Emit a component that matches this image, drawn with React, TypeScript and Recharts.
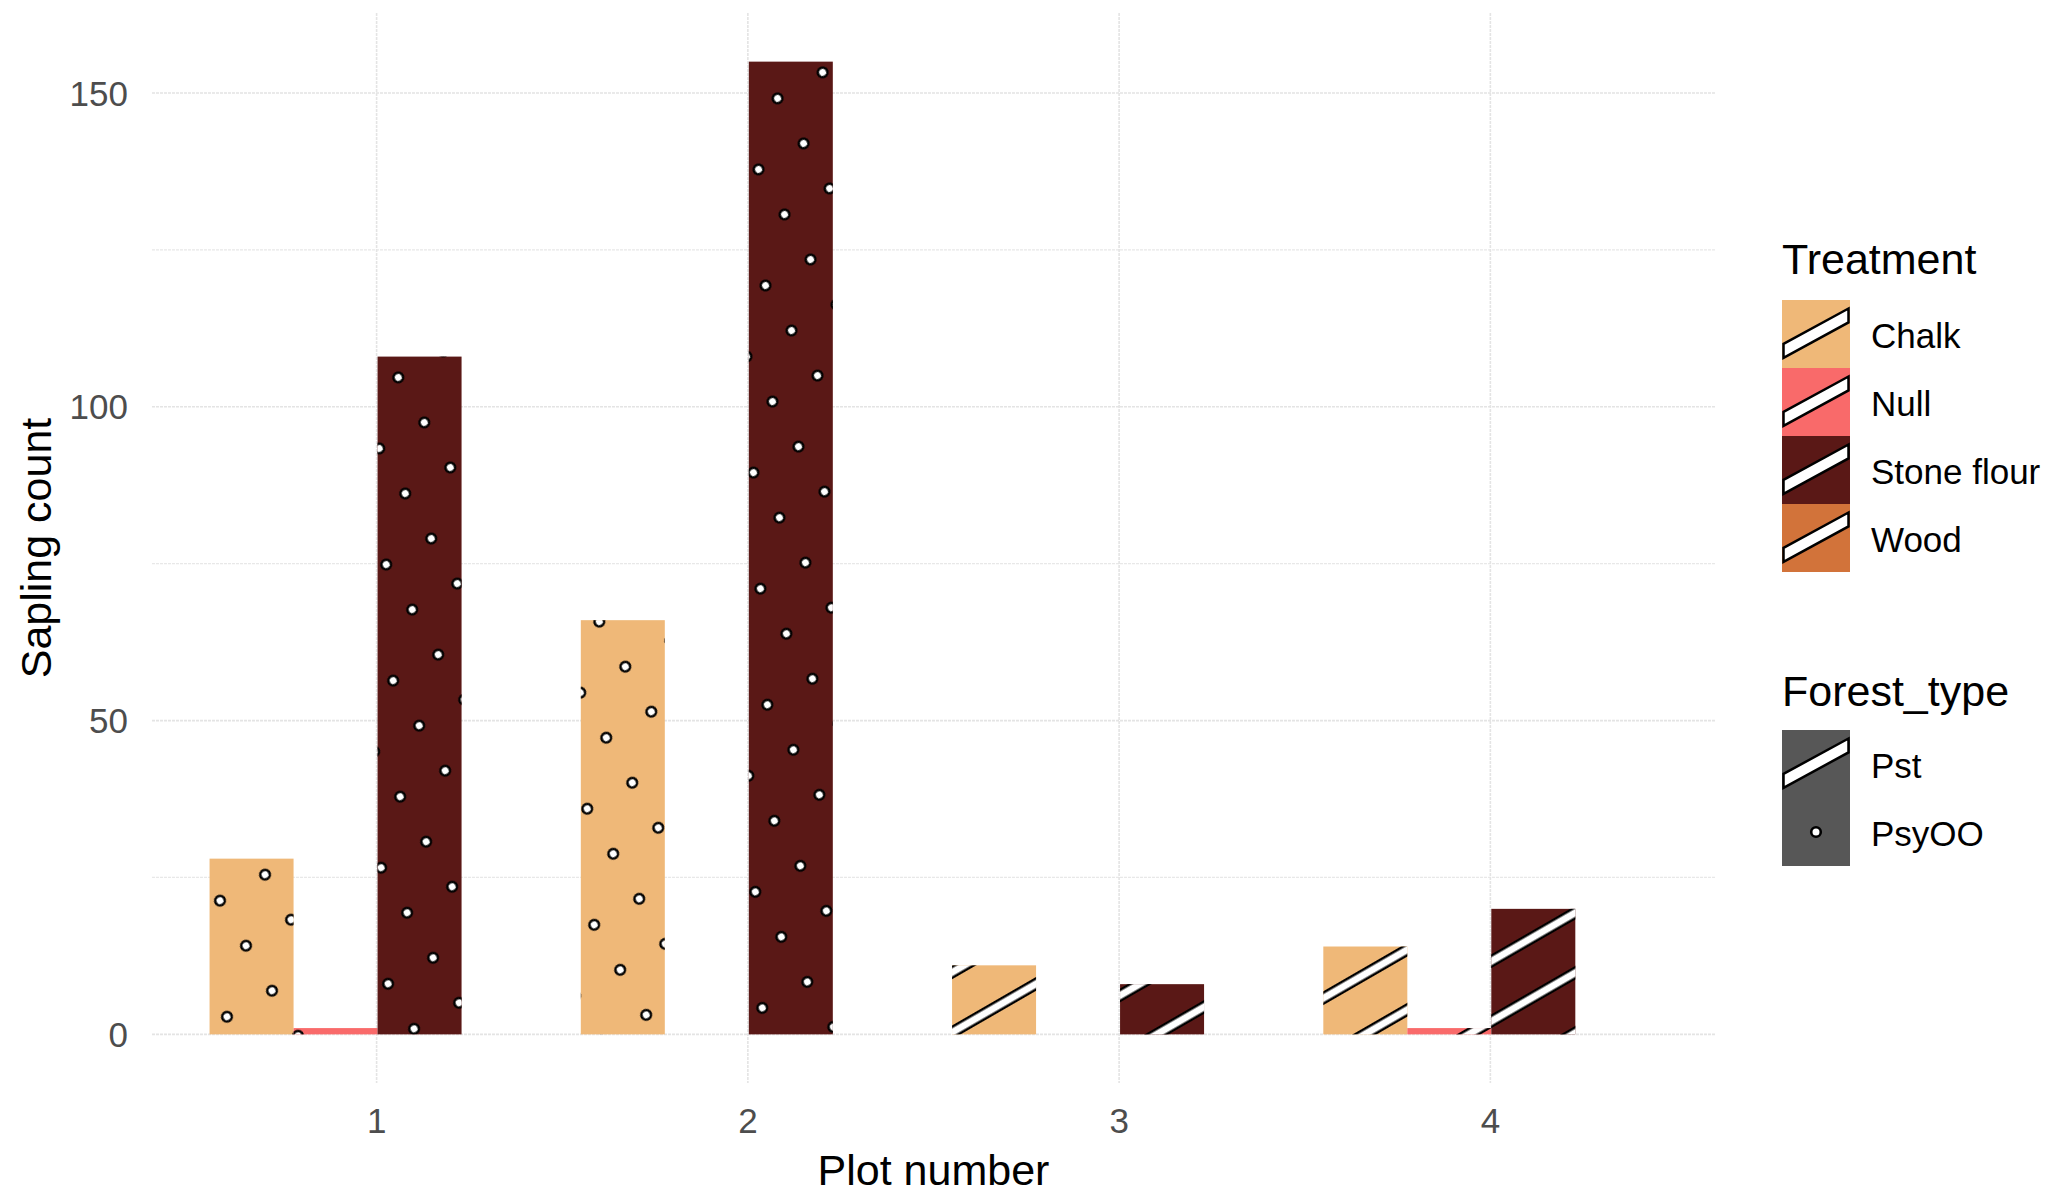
import React from 'react';
import { BarChart, Bar, XAxis, YAxis, CartesianGrid } from 'recharts';

// ---- data ----
const plots = ['1', '2', '3', '4'];
const forestTypes = ['PsyOO', 'PsyOO', 'Pst', 'Pst'];
const chalk = [28, 66, 11, 14];
const nullTreatment = [1, null, null, 1];
const stoneFlour = [108, 155, 8, 20];
const wood = [null, null, null, null];
const treatments = ['Chalk', 'Null', 'Stone flour', 'Wood'];
const treatmentColors = ['#EFB878', '#F96A6A', '#5A1816', '#D2733A'];
const forestLegend = ['Pst', 'PsyOO'];
const yTicks = [0, 50, 100, 150];
const yMinorTicks = [25, 75, 125];
const yDomain = [-7.75, 162.75];

const FONT = '"Liberation Sans", Arial, Helvetica, sans-serif';

const data = plots.map((p, i) => ({
  plot: p,
  forest: forestTypes[i],
  Chalk: chalk[i],
  Null: nullTreatment[i],
  'Stone flour': stoneFlour[i],
  Wood: wood[i],
}));

const PatternBar = (props: any) => {
  const { x, y, width, height, fill, payload } = props;
  if (height == null || !isFinite(height) || height <= 0 || !width) return null;
  const pat = payload && payload.forest === 'Pst' ? 'url(#stripesPat)' : 'url(#dotsPat)';
  return (
    <g>
      <rect x={x} y={y} width={width} height={height} fill={fill} />
      <rect x={x} y={y} width={width} height={height} fill={pat} />
    </g>
  );
};

const XTick = (props: any) => {
  const { x, y, payload } = props;
  return (
    <text x={x} y={y} dy={50} textAnchor="middle" fontSize={35} fill="#4D4D4D" fontFamily={FONT}>
      {payload.value}
    </text>
  );
};

const YTick = (props: any) => {
  const { x, y, payload } = props;
  return (
    <text x={x - 24} y={y} dy={12.5} textAnchor="end" fontSize={35} fill="#4D4D4D" fontFamily={FONT}>
      {payload.value}
    </text>
  );
};

const StripeKey = ({ x, y, w, h, color }: any) => (
  <g>
    <rect x={x} y={y} width={w} height={h} fill={color} />
    <polygon
      points={`${x + 1.5},${y + h * 0.645} ${x + w - 1.5},${y + h * 0.125} ${x + w - 1.5},${y + h * 0.33} ${x + 1.5},${y + h * 0.85}`}
      fill="#fff"
      stroke="#000"
      strokeWidth={2.5}
    />
  </g>
);

const DotKey = ({ x, y, w, h, color }: any) => (
  <g>
    <rect x={x} y={y} width={w} height={h} fill={color} />
    <circle cx={x + w / 2} cy={y + h / 2} r={4.8} fill="#fff" stroke="#000" strokeWidth={2.6} />
  </g>
);

export default function App() {
  const keyX = 1782;
  const keyW = 68;
  const keyH = 68;
  const tTop = 300;
  const fTop = 730;
  return (
    <div style={{ position: 'absolute', left: 0, top: 0, width: 2054, height: 1193, background: '#fff' }}>
      <BarChart
        width={2054}
        height={1193}
        data={data}
        margin={{ top: 13, right: 339, bottom: 0, left: 0 }}
        barCategoryGap="5%"
        barGap={0}
      >
        <defs>
          <pattern
            id="stripesPat"
            patternUnits="userSpaceOnUse"
            width={52}
            height={52}
            patternTransform="rotate(-30) translate(0 -7.9)"
          >
            <rect x={0} y={20} width={52} height={12} fill="#000" />
            <rect x={0} y={22.5} width={52} height={7} fill="#fff" />
          </pattern>
          <pattern
            id="dotsPat"
            patternUnits="userSpaceOnUse"
            width={52}
            height={52}
            patternTransform="rotate(-30) translate(-25.8 -20)"
          >
            <circle cx={26} cy={26} r={4.8} fill="#fff" stroke="#000" strokeWidth={2.6} />
          </pattern>
        </defs>
        <CartesianGrid
          vertical={false}
          syncWithTicks
          horizontalValues={yMinorTicks}
          stroke="#E8E8E8"
          strokeWidth={1.3}
          strokeDasharray="3 1"
        />
        <CartesianGrid syncWithTicks stroke="#E4E4E4" strokeWidth={1.6} strokeDasharray="3 1" />
        <XAxis
          dataKey="plot"
          type="category"
          padding={{ left: 39, right: 39 }}
          axisLine={false}
          tickLine={false}
          tickSize={0}
          tickMargin={0}
          height={110}
          tick={<XTick />}
          interval={0}
        />
        <YAxis
          type="number"
          domain={yDomain}
          ticks={yTicks}
          allowDataOverflow
          axisLine={false}
          tickLine={false}
          tickSize={0}
          tickMargin={0}
          width={152}
          tick={<YTick />}
          interval={0}
        />
        {treatments.map((t, i) => (
          <Bar key={t} dataKey={t} fill={treatmentColors[i]} isAnimationActive={false} shape={PatternBar} />
        ))}
      </BarChart>
      <svg
        width={2054}
        height={1193}
        style={{ position: 'absolute', left: 0, top: 0, pointerEvents: 'none' }}
        fontFamily={FONT}
      >
        <text x={933.5} y={1185} textAnchor="middle" fontSize={43} fill="#000">
          Plot number
        </text>
        <text x={51} y={548} transform="rotate(-90 51 548)" textAnchor="middle" fontSize={43} fill="#000">
          Sapling count
        </text>

        <text x={keyX} y={274} fontSize={43} fill="#000">
          Treatment
        </text>
        {treatments.map((t, i) => (
          <g key={t}>
            <StripeKey x={keyX} y={tTop + i * keyH} w={keyW} h={keyH} color={treatmentColors[i]} />
            <text x={1871} y={tTop + i * keyH + keyH / 2 + 14} fontSize={35} fill="#000">
              {t}
            </text>
          </g>
        ))}

        <text x={keyX} y={706} fontSize={43} fill="#000">
          Forest_type
        </text>
        {forestLegend.map((f, i) => (
          <g key={f}>
            {f === 'Pst' ? (
              <StripeKey x={keyX} y={fTop + i * keyH} w={keyW} h={keyH} color="#575757" />
            ) : (
              <DotKey x={keyX} y={fTop + i * keyH} w={keyW} h={keyH} color="#575757" />
            )}
            <text x={1871} y={fTop + i * keyH + keyH / 2 + 14} fontSize={35} fill="#000">
              {f}
            </text>
          </g>
        ))}
      </svg>
    </div>
  );
}
